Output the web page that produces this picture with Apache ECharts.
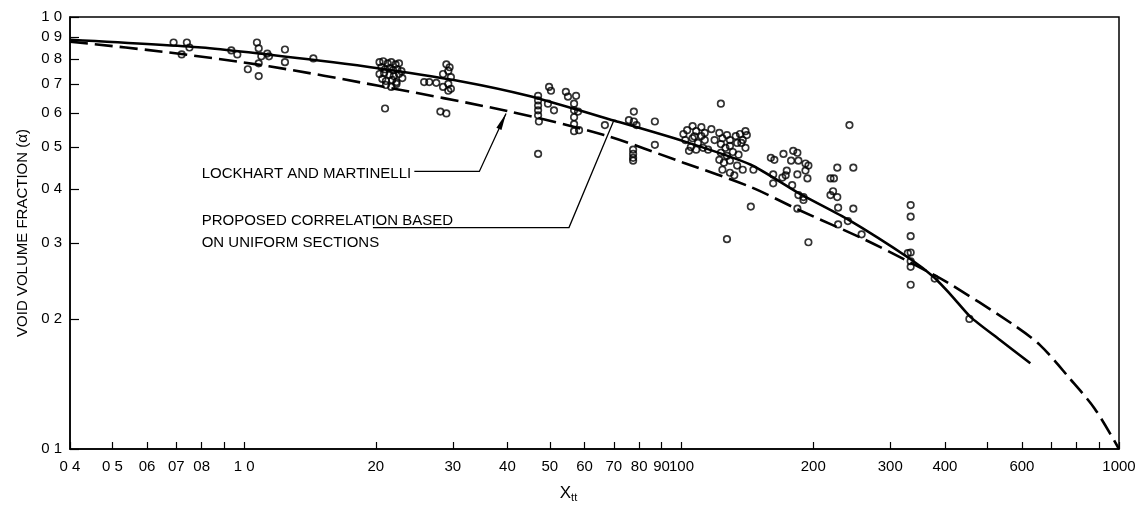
<!DOCTYPE html>
<html>
<head>
<meta charset="utf-8">
<script src="https://cdn.jsdelivr.net/npm/echarts@6/dist/echarts.min.js"></script>
<style>
  html, body { margin: 0; padding: 0; background: #fff; }
  #chart { width: 1143px; height: 508px; }
</style>
</head>
<body>
<div id="chart"></div>
<script>
// tick positions and the labels as printed (decimal points lost in the print)
const xTicks = [0.4, 0.5, 0.6, 0.7, 0.8, 0.9, 1, 2, 3, 4, 5, 6, 7, 8, 9, 10, 20, 30, 40, 50, 60, 70, 80, 90, 100];
const xLabelValues = [0.4, 0.5, 0.6, 0.7, 0.8, 1, 2, 3, 4, 5, 6, 7, 8, 9, 10, 20, 30, 40, 60, 100];
const xLabelTexts = ['0 4', '0 5', '06', '07', '08', '1 0', '20', '30', '40', '50', '60', '70', '80', '90', '100', '200', '300', '400', '600', '1000'];
const yTicks = [0.1, 0.2, 0.3, 0.4, 0.5, 0.6, 0.7, 0.8, 0.9, 1];
const yLabelTexts = ['0 1', '0 2', '0 3', '0 4', '0 5', '0 6', '0 7', '0 8', '0 9', '1 0'];

// proposed correlation (solid)
const proposedCurve = [
  [0.4, 0.886], [0.8, 0.850], [1.6, 0.786], [2.1, 0.757], [3.1, 0.711], [4.46, 0.657],
  [7.0, 0.576], [10.1, 0.516], [14.4, 0.455], [18.7, 0.389], [24, 0.340], [33.4, 0.275],
  [37.7, 0.250], [41.5, 0.226], [45.8, 0.202], [53, 0.180], [62.7, 0.158]
];

// Lockhart and Martinelli (dashed)
const lockhartCurve = [
  [0.4, 0.877], [0.671, 0.828], [1.14, 0.769], [2.03, 0.693], [4.02, 0.605], [6.65, 0.533],
  [10.1, 0.460], [14.4, 0.404], [18.5, 0.358], [26.1, 0.306], [33.4, 0.270], [40.5, 0.243],
  [56.5, 0.196], [66, 0.174], [77, 0.146], [88, 0.124], [100, 0.100]
];

// measured points
const lowPoints = [
  [0.69, 0.873], [0.74, 0.873], [0.72, 0.819], [0.75, 0.850],
  [0.935, 0.837], [0.965, 0.819], [1.07, 0.873], [1.08, 0.846], [1.095, 0.811], [1.13, 0.823],
  [1.14, 0.811], [1.02, 0.757], [1.08, 0.781], [1.08, 0.730], [1.24, 0.841], [1.24, 0.786], [1.44, 0.802]
];
const points2to3 = [
  [2.04, 0.786], [2.08, 0.790], [2.13, 0.781], [2.17, 0.786], [2.22, 0.777], [2.26, 0.781],
  [2.06, 0.765], [2.10, 0.757], [2.15, 0.761], [2.19, 0.753], [2.24, 0.757], [2.29, 0.749],
  [2.04, 0.738], [2.09, 0.742], [2.15, 0.734], [2.20, 0.730], [2.26, 0.738],
  [2.07, 0.719], [2.11, 0.711], [2.18, 0.715], [2.23, 0.707], [2.30, 0.722],
  [2.11, 0.696], [2.17, 0.689], [2.23, 0.700], [2.10, 0.614],
  [2.58, 0.707], [2.65, 0.707], [2.75, 0.704], [2.85, 0.689], [2.93, 0.700], [2.97, 0.682],
  [2.93, 0.675], [2.90, 0.777], [2.95, 0.765], [2.85, 0.738], [2.97, 0.726], [2.93, 0.750],
  [2.81, 0.604], [2.90, 0.598]
];
const points5to9 = [
  [4.98, 0.689], [5.03, 0.675], [4.70, 0.657], [4.70, 0.641], [4.70, 0.624], [4.70, 0.608],
  [4.70, 0.592], [4.72, 0.573], [4.95, 0.630], [5.11, 0.608], [4.70, 0.482],
  [5.44, 0.671], [5.50, 0.654], [5.74, 0.657], [5.68, 0.630], [5.68, 0.608], [5.68, 0.586],
  [5.68, 0.565], [5.68, 0.544], [5.80, 0.604], [5.83, 0.547],
  [6.68, 0.562], [7.78, 0.604], [7.58, 0.577], [7.78, 0.573], [7.89, 0.562], [7.75, 0.493],
  [7.75, 0.482], [7.75, 0.472], [7.75, 0.465], [8.69, 0.573], [8.69, 0.506]
];
const points10to14 = [
  [10.1, 0.536], [10.3, 0.547], [10.6, 0.559], [10.8, 0.544], [11.1, 0.556], [11.3, 0.539],
  [10.2, 0.519], [10.6, 0.524], [10.9, 0.511], [11.3, 0.519], [10.5, 0.500], [10.8, 0.493],
  [11.2, 0.498], [11.5, 0.493], [10.7, 0.529], [11.1, 0.530], [11.7, 0.550], [11.9, 0.519],
  [10.4, 0.490], [12.3, 0.630],
  [12.2, 0.539], [12.4, 0.524], [12.7, 0.533], [12.9, 0.519], [13.3, 0.530], [13.6, 0.536],
  [14.0, 0.544], [12.3, 0.508], [12.6, 0.498], [12.9, 0.503], [13.4, 0.511], [13.8, 0.519],
  [12.3, 0.485], [12.7, 0.477], [13.1, 0.487], [13.5, 0.480], [14.0, 0.498], [12.2, 0.467],
  [12.5, 0.460], [12.9, 0.465], [13.4, 0.453], [12.4, 0.443], [12.9, 0.436], [13.2, 0.430],
  [14.1, 0.533], [13.7, 0.511], [13.8, 0.443], [14.6, 0.443], [14.4, 0.364], [12.7, 0.306]
];
const points16to46 = [
  [16.0, 0.472], [16.3, 0.467], [17.1, 0.482], [18.0, 0.490], [18.4, 0.485], [17.8, 0.465],
  [18.5, 0.465], [19.2, 0.458], [19.5, 0.453], [19.2, 0.441], [19.4, 0.423], [18.4, 0.432],
  [17.4, 0.441], [17.3, 0.430], [17.0, 0.425], [16.2, 0.432], [16.2, 0.412], [17.9, 0.408],
  [18.5, 0.387], [19.0, 0.383], [19.0, 0.377], [18.4, 0.360], [19.5, 0.301],
  [22.7, 0.448], [24.7, 0.448], [21.9, 0.423], [22.3, 0.423], [22.2, 0.395], [21.9, 0.387],
  [22.7, 0.383], [22.8, 0.362], [24.7, 0.360], [24.2, 0.562], [24.0, 0.337], [22.8, 0.331],
  [25.8, 0.314],
  [33.4, 0.367], [33.4, 0.345], [33.4, 0.311], [33.4, 0.285], [32.9, 0.284], [33.4, 0.272],
  [33.4, 0.264], [33.4, 0.240], [37.9, 0.248], [45.5, 0.200]
];

// annotation anchors in data units
const lockhartText = { at: [0.80, 0.439], text: 'LOCKHART AND MARTINELLI' };
const lockhartLeader = [[2.45, 0.439], [3.45, 0.439], [3.97, 0.598]];
const proposedText = [
  { at: [0.80, 0.341], text: 'PROPOSED CORRELATION BASED' },
  { at: [0.80, 0.303], text: 'ON UNIFORM SECTIONS' }
];
const proposedLeader = [[1.97, 0.3255], [5.53, 0.3255], [7.0, 0.576]];

const FONT = '"Liberation Sans", Arial, sans-serif';

function sameTick(a, b) {
  return Math.abs(Math.log10(a) - Math.log10(b)) < 1e-6;
}
function xLabel(v) {
  const i = xLabelValues.findIndex(t => sameTick(t, v));
  return i < 0 ? '' : xLabelTexts[i];
}
function yLabel(v) {
  const i = yTicks.findIndex(t => sameTick(t, v));
  return i < 0 ? '' : yLabelTexts[i];
}

const chart = echarts.init(document.getElementById('chart'));

const pointStyle = {
  color: 'rgba(0,0,0,0)',
  borderColor: '#000',
  borderWidth: 1.7
};

const option = {
  animation: false,
  backgroundColor: '#fff',
  grid: {
    left: 70, right: 24, top: 17, bottom: 52,
    show: true, borderColor: '#000', borderWidth: 1.5, backgroundColor: 'transparent'
  },
  xAxis: {
    type: 'log',
    logBase: 10,
    min: 0.4,
    max: 100,
    name: '{x|X}{s|tt}',
    nameLocation: 'middle',
    nameGap: 34,
    nameTextStyle: {
      padding: [0, 52, 0, 0],
      rich: {
        x: { fontSize: 17, fontFamily: FONT, color: '#000' },
        s: { fontSize: 11, fontFamily: FONT, color: '#000', padding: [9, 0, 0, 0] }
      }
    },
    axisLine: { lineStyle: { color: '#000', width: 1.5 } },
    axisTick: { inside: true, length: 7, customValues: xTicks, lineStyle: { color: '#000', width: 1.2 } },
    axisLabel: {
      customValues: xLabelValues,
      formatter: xLabel,
      color: '#000', fontSize: 15, fontFamily: FONT, margin: 10
    },
    splitLine: { show: false }
  },
  yAxis: {
    type: 'log',
    logBase: 10,
    min: 0.1,
    max: 1,
    name: 'VOID VOLUME FRACTION (α)',
    nameLocation: 'middle',
    nameGap: 40,
    nameTextStyle: { fontSize: 15, fontFamily: FONT, color: '#000' },
    axisLine: { lineStyle: { color: '#000', width: 1.5 } },
    axisTick: { inside: true, length: 9, customValues: yTicks, lineStyle: { color: '#000', width: 1.2 } },
    axisLabel: {
      customValues: yTicks,
      formatter: yLabel,
      color: '#000', fontSize: 15, fontFamily: FONT, margin: 8
    },
    splitLine: { show: false }
  },
  series: [
    {
      name: 'Proposed correlation',
      type: 'line',
      data: proposedCurve,
      showSymbol: false,
      smooth: 0.2,
      lineStyle: { color: '#000', width: 2.6 },
      z: 2
    },
    {
      name: 'Lockhart and Martinelli',
      type: 'line',
      data: lockhartCurve,
      showSymbol: false,
      smooth: 0.3,
      lineStyle: { color: '#000', width: 2.6, type: [18, 7] },
      z: 2
    },
    {
      name: 'Data',
      type: 'scatter',
      data: [].concat(lowPoints, points2to3, points5to9, points10to14, points16to46),
      symbol: 'circle',
      symbolSize: 6.5,
      itemStyle: pointStyle,
      z: 3
    }
  ]
};

chart.setOption(option);

// leader lines and labels, placed from data coordinates
const toPx = p => chart.convertToPixel({ xAxisIndex: 0, yAxisIndex: 0 }, p);

function arrowHead(tip, from, len, half) {
  const dx = tip[0] - from[0], dy = tip[1] - from[1];
  const d = Math.sqrt(dx * dx + dy * dy);
  const ux = dx / d, uy = dy / d;
  const bx = tip[0] - ux * len, by = tip[1] - uy * len;
  return [tip, [bx - uy * half, by + ux * half], [bx + uy * half, by - ux * half]];
}

function textEl(item) {
  const p = toPx(item.at);
  return {
    type: 'text',
    silent: true,
    x: p[0], y: p[1] + 2,
    style: { text: item.text, fill: '#000', font: '15px ' + FONT, verticalAlign: 'middle', align: 'left' }
  };
}

const lmPts = lockhartLeader.map(toPx);
const prPts = proposedLeader.map(toPx);

chart.setOption({
  graphic: [
    textEl(lockhartText),
    textEl(proposedText[0]),
    textEl(proposedText[1]),
    { type: 'polyline', silent: true, shape: { points: lmPts }, style: { stroke: '#000', lineWidth: 1.3, fill: null } },
    { type: 'polygon', silent: true, shape: { points: arrowHead(lmPts[2], lmPts[1], 17, 2.8) }, style: { fill: '#000' } },
    { type: 'polyline', silent: true, shape: { points: prPts }, style: { stroke: '#000', lineWidth: 1.3, fill: null } }
  ]
});
</script>
</body>
</html>
